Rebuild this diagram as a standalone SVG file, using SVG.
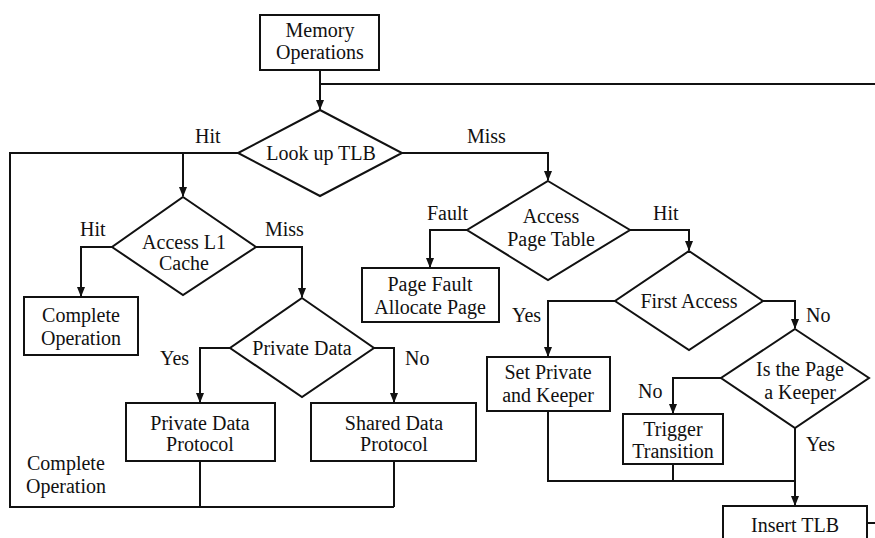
<svg xmlns="http://www.w3.org/2000/svg" width="875" height="538" viewBox="0 0 875 538">
<style>
.s{fill:#fff;stroke:#111;stroke-width:2}
.c{fill:none;stroke:#111;stroke-width:2}
text{font-family:"Liberation Serif","Times New Roman",serif;font-size:20px;fill:#111}
.m{text-anchor:middle}
</style>
<defs>
<marker id="a" markerWidth="10" markerHeight="10" refX="9" refY="5" orient="auto" markerUnits="userSpaceOnUse">
<path d="M0,1 L10,5 L0,9 Z" fill="#111"/>
</marker>
</defs>
<rect width="875" height="538" fill="#fff"/>
<g id="connectors">
<path class="c" d="M320,70 V109" marker-end="url(#a)"/>
<path class="c" d="M320,84 H875"/>
<path class="c" d="M238,153 H10 V507 H394"/>
<path class="c" d="M183,153 V196" marker-end="url(#a)"/>
<path class="c" d="M402,153 H548 V180" marker-end="url(#a)"/>
<path class="c" d="M112,247 H81 V296" marker-end="url(#a)"/>
<path class="c" d="M256,247 H302 V297" marker-end="url(#a)"/>
<path class="c" d="M230,348 H200 V402" marker-end="url(#a)"/>
<path class="c" d="M374,348 H394 V402" marker-end="url(#a)"/>
<path class="c" d="M200,461 V507"/>
<path class="c" d="M394,461 V507"/>
<path class="c" d="M467,230 H430 V267" marker-end="url(#a)"/>
<path class="c" d="M630,230 H689 V250" marker-end="url(#a)"/>
<path class="c" d="M615,301 H548 V356" marker-end="url(#a)"/>
<path class="c" d="M763,301 H795 V328" marker-end="url(#a)"/>
<path class="c" d="M721,378 H673 V413" marker-end="url(#a)"/>
<path class="c" d="M795,428 V505" marker-end="url(#a)"/>
<path class="c" d="M548,411 V481 H795"/>
<path class="c" d="M673,464 V481"/>
<path class="c" d="M867,523 H875"/>
</g>
<g id="memory-operations">
<rect class="s" x="260" y="15" width="119" height="55"/>
<text class="m" x="320" y="37">Memory</text>
<text class="m" x="320" y="59">Operations</text>
</g>
<g id="lookup-tlb">
<polygon class="s" points="320,110 402,153 320,196 238,153"/>
<text class="m" x="321" y="160">Look up TLB</text>
</g>
<g id="access-l1">
<polygon class="s" points="183,197 256,247 183,295 112,247"/>
<text class="m" x="184" y="249">Access L1</text>
<text class="m" x="184" y="270">Cache</text>
</g>
<g id="complete-op-box">
<rect class="s" x="24" y="297" width="114" height="58"/>
<text class="m" x="81" y="322">Complete</text>
<text class="m" x="81" y="345">Operation</text>
</g>
<g id="private-data">
<polygon class="s" points="302,298 374,348 302,397 230,348"/>
<text class="m" x="302" y="355">Private  Data</text>
</g>
<g id="private-protocol">
<rect class="s" x="126" y="403" width="149" height="58"/>
<text class="m" x="200" y="430">Private Data</text>
<text class="m" x="200" y="451">Protocol</text>
</g>
<g id="shared-protocol">
<rect class="s" x="311" y="403" width="165" height="58"/>
<text class="m" x="394" y="430">Shared Data</text>
<text class="m" x="394" y="451">Protocol</text>
</g>
<g id="access-page-table">
<polygon class="s" points="548,181 630,230 548,280 467,230"/>
<text class="m" x="551" y="223">Access</text>
<text class="m" x="551" y="246">Page Table</text>
</g>
<g id="page-fault">
<rect class="s" x="362" y="268" width="137" height="54"/>
<text class="m" x="430" y="291">Page Fault</text>
<text class="m" x="430" y="314">Allocate Page</text>
</g>
<g id="first-access">
<polygon class="s" points="689,251 763,301 689,350 615,301"/>
<text class="m" x="689" y="308">First Access</text>
</g>
<g id="set-private">
<rect class="s" x="487" y="357" width="123" height="54"/>
<text class="m" x="548" y="379">Set Private</text>
<text class="m" x="548" y="402">and Keeper</text>
</g>
<g id="is-keeper">
<polygon class="s" points="795,329 869,378 795,428 721,378"/>
<text class="m" x="800" y="376">Is the Page</text>
<text class="m" x="800" y="399">a Keeper</text>
</g>
<g id="trigger-transition">
<rect class="s" x="623" y="414" width="100" height="50"/>
<text class="m" x="673" y="436">Trigger</text>
<text class="m" x="673" y="458">Transition</text>
</g>
<g id="insert-tlb">
<rect class="s" x="723" y="506" width="144" height="40"/>
<text class="m" x="795" y="532">Insert TLB</text>
</g>
<g id="labels">
<text x="195" y="143">Hit</text>
<text x="467" y="143">Miss</text>
<text x="80" y="236">Hit</text>
<text x="265" y="236">Miss</text>
<text x="160" y="365">Yes</text>
<text x="405" y="365">No</text>
<text x="27" y="470">Complete</text>
<text x="26" y="493">Operation</text>
<text x="427" y="220">Fault</text>
<text x="653" y="220">Hit</text>
<text x="512" y="322">Yes</text>
<text x="806" y="322">No</text>
<text x="638" y="398">No</text>
<text x="806" y="451">Yes</text>
</g>
</svg>
